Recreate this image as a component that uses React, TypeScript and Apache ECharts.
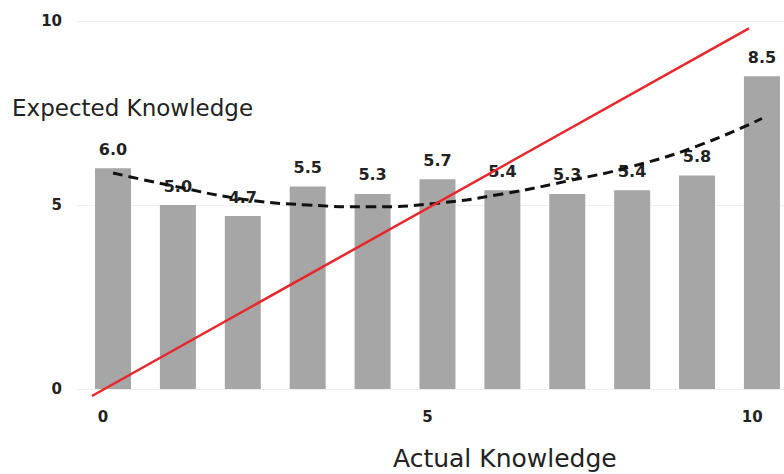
import React, { useEffect, useRef } from "react";
import * as echarts from "echarts";

const categories = [0, 1, 2, 3, 4, 5, 6, 7, 8, 9, 10];
const barValues = [6.0, 5.0, 4.7, 5.5, 5.3, 5.7, 5.4, 5.3, 5.4, 5.8, 8.5];
const trendValues = [5.87, 5.49, 5.16, 5.0, 4.95, 5.05, 5.3, 5.65, 6.05, 6.6, 7.35];
const diagonalLine = [
  [-0.17, -0.19],
  [9.95, 9.8],
];
const yTicks = [0, 5, 10];
const xTicks = [0, 5, 10];
const yTitle = "Expected Knowledge";
const xTitle = "Actual Knowledge";

export default function App() {
  const ref = useRef<HTMLDivElement>(null);
  useEffect(() => {
    if (!ref.current) return;
    const chart = echarts.init(ref.current, null, { renderer: "svg" });
    const tickFont = {
      fontFamily: "DejaVu Sans",
      fontWeight: "bold" as const,
      fontSize: 15,
      color: "#222",
    };
    chart.setOption({
      animation: false,
      backgroundColor: "#fff",
      grid: { left: 77, right: 0, top: 21, bottom: 85 },
      xAxis: [
        {
          type: "value",
          min: -0.555,
          max: 10.34,
          show: false,
          splitLine: { show: false },
        },
        {
          type: "value",
          min: -0.4,
          max: 10.49,
          position: "bottom",
          axisLine: { show: false },
          axisTick: { show: false },
          splitLine: { show: false },
          axisLabel: { ...tickFont, margin: 20, customValues: xTicks },
        },
      ],
      yAxis: {
        type: "value",
        min: 0,
        max: 10,
        interval: 5,
        axisLine: { show: false },
        axisTick: { show: false },
        splitLine: { lineStyle: { color: "#eeeeee", width: 1 } },
        axisLabel: { ...tickFont, margin: 15, customValues: yTicks },
      },
      series: [
        {
          type: "bar",
          xAxisIndex: 0,
          barWidth: 36,
          data: categories.map((c, i) => [c, barValues[i]]),
          itemStyle: { color: "#a6a6a6" },
          label: {
            show: true,
            position: "top",
            distance: 11,
            formatter: (p: any) => p.value[1].toFixed(1),
            ...tickFont,
            fontSize: 16,
          },
          z: 1,
        },
        {
          type: "line",
          xAxisIndex: 0,
          smooth: true,
          symbol: "none",
          data: categories.map((c, i) => [c, trendValues[i]]),
          lineStyle: { color: "#111", width: 3, type: [10, 6] },
          z: 3,
        },
        {
          type: "line",
          xAxisIndex: 1,
          symbol: "none",
          clip: false,
          data: diagonalLine,
          lineStyle: { color: "#e8262b", width: 2.5 },
          z: 4,
        },
      ],
      graphic: [
        {
          type: "text",
          left: 12,
          top: 96,
          style: {
            text: yTitle,
            fontFamily: "DejaVu Sans",
            fontSize: 23,
            fill: "#222",
          },
        },
        {
          type: "text",
          left: 393,
          top: 446,
          style: {
            text: xTitle,
            fontFamily: "DejaVu Sans",
            fontSize: 25,
            fill: "#222",
          },
        },
      ],
    });
    return () => chart.dispose();
  }, []);
  return (
    <div
      ref={ref}
      style={{ position: "fixed", left: 0, top: 0, width: 784, height: 474 }}
    />
  );
}
